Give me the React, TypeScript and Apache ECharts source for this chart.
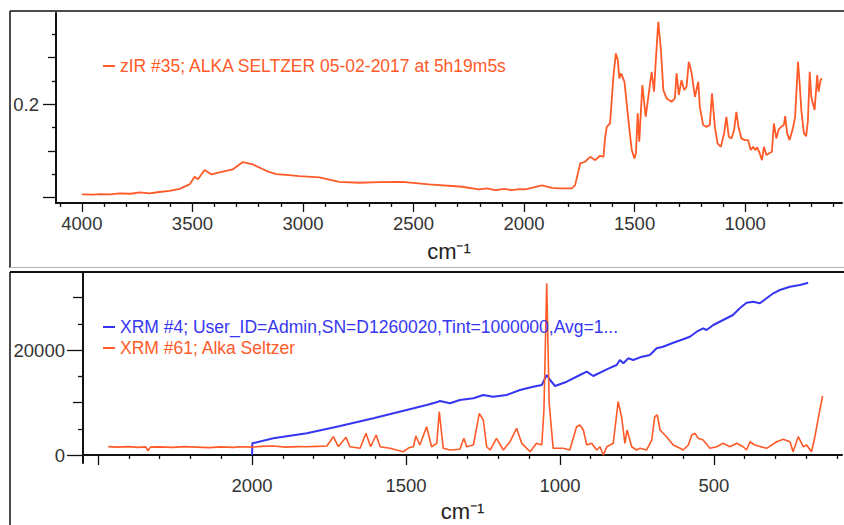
import React, { useEffect, useRef } from "react";
import * as echarts from "echarts";

// ---------- DATA ----------
const irName = "zIR #35; ALKA SELTZER 05-02-2017 at 5h19m5s";
const xrm4Name = "XRM #4; User_ID=Admin,SN=D1260020,Tint=1000000,Avg=1...";
const xrm61Name = "XRM #61; Alka Seltzer";

// IR spectrum: [wavenumber cm-1, absorbance]
const irSpectrum: [number, number][] = [
  [4000, 0.1035], [3950, 0.1032], [3919, 0.1039], [3870, 0.1036], [3829, 0.1046],
  [3780, 0.1042], [3738, 0.1056], [3693, 0.1046], [3650, 0.1061], [3603, 0.1074],
  [3558, 0.1095], [3513, 0.1142], [3490, 0.1224], [3475, 0.1197], [3445, 0.1296],
  [3415, 0.125], [3377, 0.1271], [3318, 0.1303], [3272, 0.1382], [3227, 0.1357],
  [3167, 0.1288], [3122, 0.1253], [3062, 0.1242], [3017, 0.123], [2926, 0.1217],
  [2836, 0.117], [2746, 0.116], [2656, 0.1167], [2551, 0.117], [2430, 0.1142],
  [2280, 0.1117], [2205, 0.1089], [2170, 0.11], [2129, 0.1082], [2090, 0.1094],
  [2055, 0.1081], [2020, 0.1092], [1994, 0.1089], [1919, 0.1131], [1874, 0.1106],
  [1844, 0.11], [1784, 0.11], [1769, 0.1135], [1746, 0.1367], [1724, 0.1385],
  [1701, 0.1438], [1678, 0.1402], [1656, 0.1449], [1641, 0.1438], [1633, 0.1653],
  [1626, 0.1759], [1611, 0.1796], [1596, 0.2296], [1585, 0.2546], [1576, 0.2474],
  [1569, 0.2278], [1561, 0.2332], [1546, 0.2242], [1528, 0.1831], [1513, 0.151],
  [1501, 0.1421], [1494, 0.1474], [1486, 0.1903], [1479, 0.1599], [1465, 0.2207],
  [1450, 0.1867], [1438, 0.2081], [1423, 0.2349], [1412, 0.2135], [1405, 0.2439],
  [1393, 0.2885], [1381, 0.2582], [1370, 0.2153], [1355, 0.2064], [1333, 0.2028],
  [1318, 0.2064], [1310, 0.2332], [1300, 0.21], [1288, 0.226], [1276, 0.2153],
  [1265, 0.2188], [1255, 0.2457], [1243, 0.2349], [1227, 0.2081], [1212, 0.2242],
  [1205, 0.1974], [1190, 0.1778], [1175, 0.1759], [1160, 0.1778], [1150, 0.2117],
  [1137, 0.1759], [1125, 0.1582], [1110, 0.1545], [1095, 0.1689], [1085, 0.1867],
  [1074, 0.1653], [1062, 0.1635], [1050, 0.1724], [1040, 0.192], [1029, 0.1743],
  [1017, 0.1635], [1002, 0.1617], [987, 0.1617], [975, 0.151], [964, 0.1545],
  [954, 0.151], [945, 0.1539], [934, 0.1474], [924, 0.1402], [915, 0.1545],
  [904, 0.1457], [893, 0.1474], [879, 0.1492], [870, 0.1796], [859, 0.1635],
  [848, 0.1732], [837, 0.1759], [825, 0.1778], [819, 0.1875], [810, 0.1689],
  [799, 0.1617], [784, 0.1743], [774, 0.1867], [761, 0.2457], [753, 0.2207],
  [746, 0.1939], [734, 0.1689], [724, 0.166], [716, 0.1831], [708, 0.2349],
  [701, 0.2081], [686, 0.1939], [674, 0.2314], [668, 0.2135], [659, 0.226],
  [653, 0.2278],
];

// Raman XRM #4: [shift cm-1, counts]
const xrm4Spectrum: [number, number][] = [
  [2000, 0], [1999, 2230], [1931, 3181], [1822, 4134], [1714, 5525], [1606, 6991],
  [1498, 8573], [1433, 9525], [1395, 10154], [1390, 10300], [1357, 9849], [1325, 10478],
  [1281, 10802], [1249, 11430], [1217, 11106], [1173, 11430], [1130, 12383],
  [1087, 13011], [1059, 13335], [1043, 15240], [1032, 14288], [1016, 13145],
  [978, 13964], [935, 15240], [913, 15869], [892, 15050], [848, 16326], [816, 17145],
  [805, 18098], [794, 17469], [778, 18421], [762, 18098], [740, 18612], [708, 19050],
  [686, 20326], [665, 20631], [632, 21393], [600, 22041], [578, 22536], [556, 23489],
  [535, 24136], [524, 23813], [502, 24765], [470, 25718], [438, 26670], [416, 27946],
  [394, 29013], [372, 29204], [351, 28899], [329, 29852], [307, 30804], [286, 31433],
  [253, 32061], [221, 32385], [199, 32709], [194, 32823],
];

// Raman XRM #61: [shift cm-1, counts]
const xrm61Spectrum: [number, number][] = [
  [2467, 1590], [2440, 1500], [2400, 1600], [2370, 1450], [2345, 1550], [2338, 800],
  [2330, 1500], [2300, 1550], [2260, 1450], [2220, 1600], [2180, 1500], [2140, 1400],
  [2100, 1550], [2060, 1450], [2039, 1580], [2000, 1500], [1970, 1650], [1931, 1715],
  [1890, 1500], [1850, 1600], [1822, 1580], [1790, 1650], [1757, 1715], [1736, 3486],
  [1720, 1581], [1695, 3372], [1682, 1581], [1649, 1276], [1630, 4134], [1615, 1581],
  [1597, 3810], [1584, 1581], [1552, 1276], [1509, 629], [1490, 1400], [1476, 1581],
  [1468, 3620], [1455, 1905], [1433, 5391], [1417, 1581], [1400, 2229], [1392, 8249],
  [1379, 1276], [1357, 953], [1325, 1086], [1312, 3181], [1303, 1581], [1281, 1905],
  [1262, 7944], [1249, 6668], [1238, 1581], [1227, 953], [1206, 3181], [1184, 953],
  [1162, 2534], [1141, 5086], [1124, 2229], [1097, 629], [1076, 2229], [1059, 1905],
  [1052, 8573], [1043, 32709], [1035, 9849], [1022, 1276], [989, 1276], [968, 953],
  [946, 5391], [935, 5715], [924, 4763], [913, 1905], [897, 2229], [881, 953],
  [870, 1581], [859, 0], [848, 1581], [827, 2229], [811, 10154], [800, 7296],
  [789, 2229], [782, 4763], [767, 1581], [751, 953], [740, 1276], [719, 953],
  [702, 2858], [692, 7296], [684, 7620], [675, 4763], [654, 3486], [632, 1905],
  [610, 1276], [600, 953], [583, 1905], [572, 3810], [561, 4134], [551, 3181],
  [535, 2858], [513, 1276], [491, 1581], [470, 2229], [448, 1581], [426, 2229],
  [405, 1581], [394, 953], [383, 2534], [367, 1905], [329, 1276], [296, 2534],
  [275, 2991], [253, 2534], [243, 629], [226, 3486], [210, 1581], [199, 1905],
  [183, 629], [172, 3486], [156, 8573], [147, 11240],
];

// Tick values
const irXLabels = [4000, 3500, 3000, 2500, 2000, 1500, 1000];
const irXMinor = [4100, 3900, 3800, 3700, 3600, 3400, 3300, 3200, 3100, 2900, 2800, 2700, 2600,
  2400, 2300, 2200, 2100, 1900, 1800, 1700, 1600, 1400, 1300, 1200, 1100, 900, 800, 700, 600];
const irYLabels = [0.2];
const irYMajor = [0.1, 0.2];
const irYMid = [0.15, 0.25];
const irYMinor = [0.125, 0.175, 0.225, 0.275];

const ramanXLabels = [2000, 1500, 1000, 500];
const ramanXMajor = [2500, 2000, 1500, 1000, 500];
const ramanXMinor = [2400, 2300, 2200, 2100, 1900, 1800, 1700, 1600, 1400, 1300, 1200, 1100,
  900, 800, 700, 600, 400, 300, 200, 100];
const ramanYLabels = [0, 20000];
const ramanYMajor = [0, 20000];
const ramanYMid = [10000, 30000];
const ramanYMinor = [5000, 15000, 25000];

// ---------- STYLE ----------
const FONT = "Liberation Sans, Arial, Helvetica, sans-serif";
const ORANGE = "#ff5a28";
const BLUE = "#3636f2";
const AXIS = "#111";
const LABEL = "#333";

export default function App() {
  const ref = useRef<HTMLDivElement>(null);

  useEffect(() => {
    if (!ref.current) return;
    const chart = echarts.init(ref.current, undefined, { renderer: "svg" });

    const IR_X = { min: 562, max: 4117 };
    const IR_Y = { min: 0.0943, max: 0.2979 };
    const RA_X = { min: 84, max: 2549 };
    const RA_Y = { min: -1520, max: 34860 };

    const tickOnlyX = (grid: number, range: any, values: number[], len: number) => ({
      type: "value", gridIndex: grid, inverse: true, position: "bottom",
      min: range.min, max: range.max,
      axisLine: { show: false },
      axisTick: { show: true, customValues: values, length: len, lineStyle: { color: AXIS, width: 1.3 } },
      axisLabel: { show: false },
      splitLine: { show: false },
    });
    const tickOnlyY = (grid: number, range: any, values: number[], len: number) => ({
      type: "value", gridIndex: grid, position: "left",
      min: range.min, max: range.max,
      axisLine: { show: false },
      axisTick: { show: true, customValues: values, length: len, lineStyle: { color: AXIS, width: 1.3 } },
      axisLabel: { show: false },
      splitLine: { show: false },
    });

    const option: any = {
      animation: false,
      textStyle: { fontFamily: FONT },
      grid: [
        { left: 56, right: 2, top: 13, height: 190 },
        { left: 83, right: 2, top: 272, height: 191 },
      ],
      legend: [
        {
          orient: "vertical", left: 103, top: 57, padding: 0,
          icon: "rect", itemWidth: 12, itemHeight: 2, selectedMode: false,
          textStyle: { fontSize: 17.5, fontFamily: FONT, lineHeight: 18 },
          data: [{ name: irName, textStyle: { color: ORANGE } }],
        },
        {
          orient: "vertical", left: 103, top: 318, padding: 0, itemGap: 3,
          icon: "rect", itemWidth: 12, itemHeight: 2, selectedMode: false,
          textStyle: { fontSize: 17.5, fontFamily: FONT, lineHeight: 18 },
          data: [
            { name: xrm4Name, textStyle: { color: BLUE } },
            { name: xrm61Name, textStyle: { color: ORANGE } },
          ],
        },
      ],
      xAxis: [
        {
          type: "value", gridIndex: 0, inverse: true, position: "bottom",
          min: IR_X.min, max: IR_X.max,
          name: "cm⁻¹", nameLocation: "middle", nameGap: 37,
          nameTextStyle: { fontSize: 22, color: "#222", fontFamily: FONT },
          axisLine: { show: true, lineStyle: { color: AXIS, width: 2 } },
          axisTick: { show: true, customValues: irXLabels, length: 9, lineStyle: { color: AXIS, width: 1.3 } },
          axisLabel: {
            show: true, customValues: irXLabels, margin: 11, fontSize: 18.5, color: LABEL,
            fontFamily: FONT, formatter: (v: number) => String(v),
          },
          splitLine: { show: false },
        },
        tickOnlyX(0, IR_X, irXMinor, 4),
        {
          type: "value", gridIndex: 1, inverse: true, position: "bottom",
          min: RA_X.min, max: RA_X.max,
          name: "cm⁻¹", nameLocation: "middle", nameGap: 37,
          nameTextStyle: { fontSize: 22, color: "#222", fontFamily: FONT },
          axisLine: { show: true, lineStyle: { color: AXIS, width: 2 } },
          axisTick: { show: true, customValues: ramanXMajor, length: 10, lineStyle: { color: AXIS, width: 1.3 } },
          axisLabel: {
            show: true, customValues: ramanXLabels, margin: 13, fontSize: 18.5, color: LABEL,
            fontFamily: FONT, formatter: (v: number) => String(v),
          },
          splitLine: { show: false },
        },
        tickOnlyX(1, RA_X, ramanXMinor, 4),
      ],
      yAxis: [
        {
          type: "value", gridIndex: 0, position: "left",
          min: IR_Y.min, max: IR_Y.max,
          axisLine: { show: true, lineStyle: { color: AXIS, width: 2 } },
          axisTick: { show: true, customValues: irYMajor, length: 13, lineStyle: { color: AXIS, width: 1.3 } },
          axisLabel: {
            show: true, customValues: irYLabels, margin: 17, fontSize: 18.5, color: LABEL,
            fontFamily: FONT, formatter: (v: number) => String(v),
          },
          splitLine: { show: false },
        },
        tickOnlyY(0, IR_Y, irYMid, 8),
        tickOnlyY(0, IR_Y, irYMinor, 4),
        {
          type: "value", gridIndex: 1, position: "left",
          min: RA_Y.min, max: RA_Y.max,
          axisLine: { show: true, lineStyle: { color: AXIS, width: 2 } },
          axisTick: { show: true, customValues: ramanYMajor, length: 16, lineStyle: { color: AXIS, width: 1.3 } },
          axisLabel: {
            show: true, customValues: ramanYLabels, margin: 18, fontSize: 18.5, color: LABEL,
            fontFamily: FONT, formatter: (v: number) => String(v),
          },
          splitLine: { show: false },
        },
        tickOnlyY(1, RA_Y, ramanYMid, 10),
        tickOnlyY(1, RA_Y, ramanYMinor, 5),
      ],
      series: [
        {
          name: irName, type: "line", xAxisIndex: 0, yAxisIndex: 0,
          data: irSpectrum, showSymbol: false, symbol: "none", clip: true,
          lineStyle: { color: ORANGE, width: 1.8 }, itemStyle: { color: ORANGE },
        },
        {
          name: xrm4Name, type: "line", xAxisIndex: 2, yAxisIndex: 3,
          data: xrm4Spectrum, showSymbol: false, symbol: "none", clip: true,
          lineStyle: { color: BLUE, width: 2 }, itemStyle: { color: BLUE },
        },
        {
          name: xrm61Name, type: "line", xAxisIndex: 2, yAxisIndex: 3,
          data: xrm61Spectrum, showSymbol: false, symbol: "none", clip: true,
          lineStyle: { color: ORANGE, width: 1.6 }, itemStyle: { color: ORANGE },
        },
      ],
      graphic: [
        { type: "line", shape: { x1: 10, y1: 11, x2: 844, y2: 11 }, style: { stroke: "#111", lineWidth: 1.5 } },
        { type: "line", shape: { x1: 10, y1: 11, x2: 10, y2: 268 }, style: { stroke: "#111", lineWidth: 1.5 } },
        { type: "line", shape: { x1: 10, y1: 267.5, x2: 844, y2: 267.5 }, style: { stroke: "#b4b4b4", lineWidth: 1 } },
        { type: "line", shape: { x1: 10, y1: 272, x2: 844, y2: 272 }, style: { stroke: "#111", lineWidth: 2 } },
        { type: "line", shape: { x1: 10, y1: 272, x2: 10, y2: 525 }, style: { stroke: "#111", lineWidth: 1.5 } },
      ],
    };

    chart.setOption(option);
    return () => chart.dispose();
  }, []);

  return (
    <div
      ref={ref}
      style={{ position: "fixed", left: 0, top: 0, width: 844, height: 525, background: "#fff" }}
    />
  );
}
